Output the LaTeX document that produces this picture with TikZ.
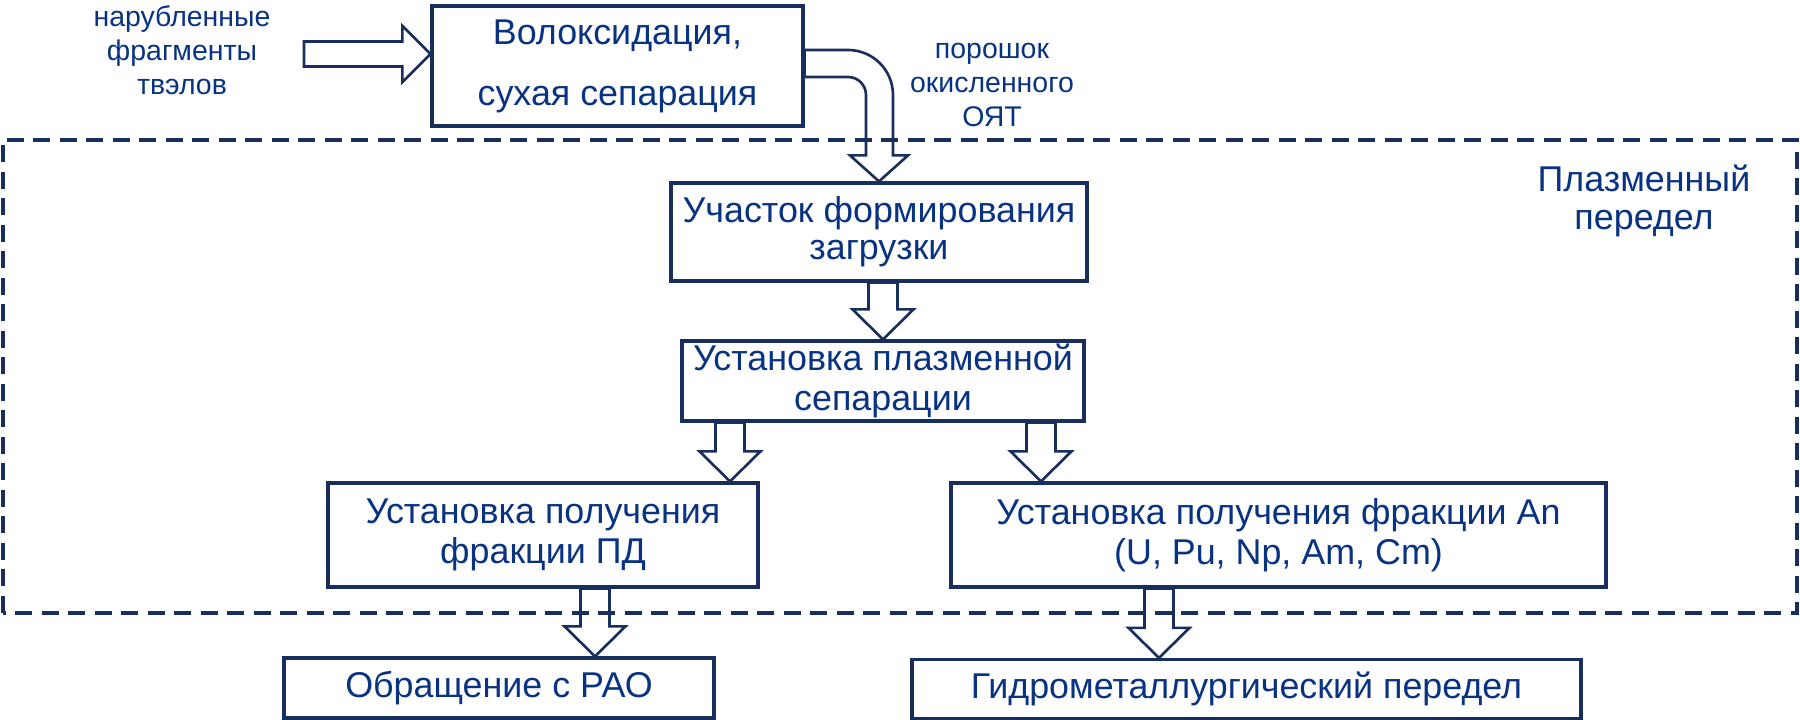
\documentclass[tikz,border=0pt]{standalone}
\usepackage{fontspec}
\setmainfont{Liberation Sans}
\usetikzlibrary{calc}

\definecolor{lineblue}{RGB}{24,46,92}
\definecolor{textblue}{RGB}{8,50,130}

% hollow block arrow going down: #1 x position (cm), #2 from node, #3 to node
\newcommand{\blockdown}[3]{%
  \draw[blockarrow] let \p1=(#2.south), \p2=(#3.north) in
    (#1cm-1.45mm,\y1) -- (#1cm-1.45mm,\y2+3mm) -- (#1cm-3.05mm,\y2+3mm)
    -- (#1cm,\y2) -- (#1cm+3.05mm,\y2+3mm) -- (#1cm+1.45mm,\y2+3mm)
    -- (#1cm+1.45mm,\y1) -- cycle;}

\begin{document}
\begin{tikzpicture}[
    box/.style={rectangle, draw=lineblue, line width=0.9pt, inner sep=0pt, align=center, text=textblue, font=\fontsize{10.2}{11.4}\selectfont},
    note/.style={align=center, text=textblue, inner sep=0pt, font=\fontsize{8.1}{9.6}\selectfont},
    blockarrow/.style={draw=lineblue, line width=0.75pt, line join=miter},
    zone/.style={draw=lineblue, line width=0.9pt, dash pattern=on 1.7mm off 0.95mm}
]

\useasboundingbox (0,0) rectangle (18,7.2);

% Plasma zone
\draw[zone] (0.03,1.07) rectangle (17.97,5.80);
\node[text=textblue, align=center, inner sep=0pt, font=\fontsize{10.2}{10.9}\selectfont] (zonelabel) at (16.44,5.19) {Плазменный\\передел};

% Inputs
\node[note] (feed) at (1.82,6.70) {нарубленные\\фрагменты\\твэлов};
\node[note] (powder) at (9.92,6.35) {порошок\\окисленного\\ОЯТ};
\coordinate (feedin) at (3.04,6.66);

% Process boxes
\node[box, minimum width=3.71cm, minimum height=1.20cm, font=\fontsize{10.2}{17.4}\selectfont] (b1) at (6.175,6.54) {Волоксидация,\\сухая сепарация};
\node[box, minimum width=4.16cm, minimum height=0.98cm, font=\fontsize{10.2}{10.6}\selectfont] (b2) at (8.79,4.88) {Участок формирования\\загрузки};
\node[box, minimum width=4.02cm, minimum height=0.80cm] (b3) at (8.83,3.39) {Установка плазменной\\сепарации};
\node[box, minimum width=4.30cm, minimum height=1.04cm] (pd) at (5.43,1.85) {Установка получения\\фракции ПД};
\node[box, minimum width=6.55cm, minimum height=1.04cm] (an) at (12.785,1.85) {Установка получения фракции An\\(U, Pu, Np, Am, Cm)};

% Outputs
\node[box, minimum width=4.30cm, minimum height=0.60cm] (rao) at (4.99,0.32) {Обращение с РАО};
\node[box, minimum width=6.69cm, minimum height=0.59cm] (hydro) at (12.465,0.31) {Гидрометаллургический передел};

% Arrows
\draw[blockarrow] let \p1=(feedin), \p2=(b1.west |- feedin) in
    (\x1,\y1+1.25mm) -- (\x2-2.8mm,\y1+1.25mm) -- (\x2-2.8mm,\y1+2.8mm) -- (\x2,\y1)
    -- (\x2-2.8mm,\y1-2.8mm) -- (\x2-2.8mm,\y1-1.25mm) -- (\x1,\y1-1.25mm) -- cycle;
\draw[blockarrow] let \p1=(b1.east), \p2=(b2.north) in
    (\x1,\y1+1.6mm) -- (\x2-3.1mm,\y1+1.6mm) arc[start angle=90, end angle=0, radius=4.5mm]
    -- (\x2+1.4mm,\y2+2.6mm) -- (\x2+2.9mm,\y2+2.6mm) -- (\x2,\y2) -- (\x2-2.9mm,\y2+2.6mm)
    -- (\x2-1.3mm,\y2+2.6mm) -- (\x2-1.3mm,\y1-2.9mm) arc[start angle=0, end angle=90, radius=1.8mm]
    -- (\x1,\y1-1.1mm) -- cycle;
\blockdown{8.83}{b2}{b3}
\blockdown{7.30}{b3}{pd}
\blockdown{10.41}{b3}{an}
\blockdown{5.95}{pd}{rao}
\blockdown{11.59}{an}{hydro}

\end{tikzpicture}
\end{document}
